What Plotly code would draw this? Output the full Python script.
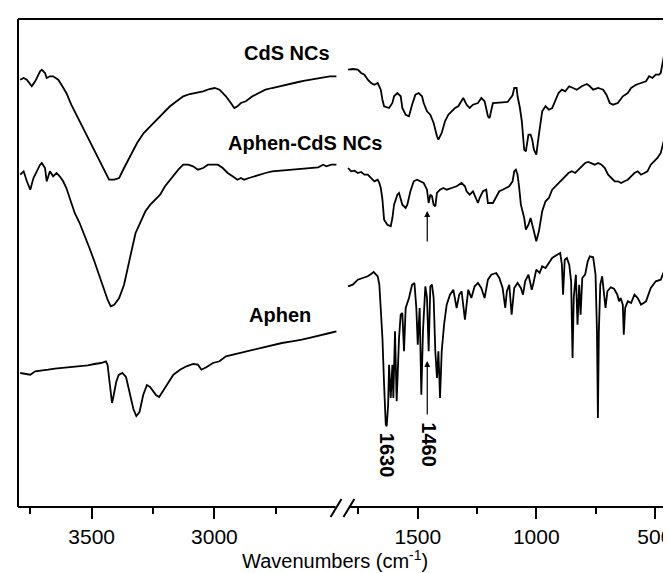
import plotly.graph_objects as go

# ---------------- data (wavenumber cm-1, transmittance a.u. with offsets) -------------
cds_hi_wn = [3791,3777,3764,3744,3730,3710,3703,3690,3683,3670,3657,3636,3623,3603,3583,3556,3529,3502,3476,3449,3429,3408,3388,3368,3341,3315,3288,3261,3234,3207,3181,3154,3127,3100,3073,3046,3020,2999,2979,2953,2933,2919,2906,2892,2872,2845,2819,2792,2765,2738,2711,2684,2658,2631,2604,2577,2550,2530,2503]
cds_hi_t = [427.3,429,427.3,420.7,425.7,435.7,437.3,434,429,430.7,430.7,427.3,422.3,414,402.3,389,375.7,362.3,349,335.7,327.3,327.3,329,339,352.3,364,374,380.7,387.3,394,400.7,405.7,410.7,413,414,415.7,418,419,417.3,410.7,404,399,400.7,404,405.7,410.7,414,417.3,419,420.7,422.3,424,425,426.3,427.3,428.3,429.7,430.7,430.7]

cds_lo_wn = [1794,1774,1753,1739,1725,1711,1697,1683,1669,1656,1649,1642,1621,1607,1600,1586,1572,1565,1551,1537,1524,1510,1496,1482,1475,1461,1447,1433,1419,1413,1399,1385,1371,1357,1343,1329,1315,1308,1294,1281,1267,1246,1232,1218,1204,1197,1183,1162,1142,1121,1100,1093,1083,1079,1069,1061,1056,1051,1044,1033,1024,1017,1010,1000,989,975,961,947,933,919,906,892,878,861,843,829,808,787,774,760,739,718,704,690,676,656,635,614,600,579,558,537,524,510,496,482,475,468,461]
cds_lo_t = [437.3,438,437.3,434,432.3,427.3,424,422.3,424,417.3,407.3,400.7,399,404,410.7,414,410.7,399,392.3,390.7,402.3,412.3,414,410.7,404,395.7,392.3,384,370.7,367.3,374,385.7,392.3,395.7,399,400.7,407.3,409,402.3,399,402.3,404,409,405.7,390.7,389,404,404,404.7,405,411.7,419,419,410.7,399,385.7,367.3,357.3,355.7,372.3,372.3,367.3,357.3,352.3,372.3,395.7,400.7,397.3,399,407.3,414,417.3,415.7,420.7,419,417.3,420.7,423,420.7,417.3,419,417.3,412.3,404,402.3,404,410.7,414,419,422.3,424,425.7,430.7,429,432.3,432.3,434,443.3,451.7]

apc_hi_wn = [3791,3777,3764,3750,3737,3724,3710,3703,3690,3683,3670,3657,3643,3630,3616,3603,3590,3583,3569,3549,3529,3509,3489,3469,3449,3435,3422,3408,3388,3368,3355,3335,3321,3301,3281,3261,3241,3221,3201,3181,3167,3147,3127,3107,3087,3067,3046,3026,3006,2986,2966,2946,2926,2906,2892,2879,2859,2839,2819,2792,2765,2738,2698,2658,2617,2577,2557,2544,2524,2503]
apc_hi_t = [332.3,335.7,325.7,317.3,329,335.7,342.3,344,339,325.7,335.7,330.7,334,330.7,325.7,319,309,304,294,284,272.3,259,245.7,232.3,217.3,207.3,200.7,202.3,209,222.3,235.7,259,274,285.7,295.7,302.3,307.3,312.3,320.7,327.3,330.7,337.3,342.3,342.3,340.7,337.3,339,342.3,342.3,342.3,339,334,330.7,327.3,329,327.3,329,330.7,332.3,334,335.7,336.3,337.3,338.3,339,339.7,342.3,340.7,342.3,342.3]

apc_lo_wn = [1794,1781,1767,1753,1739,1725,1711,1697,1683,1669,1662,1656,1649,1642,1628,1614,1607,1600,1586,1579,1572,1565,1551,1544,1531,1517,1503,1489,1475,1461,1454,1447,1440,1433,1426,1419,1406,1392,1378,1357,1336,1315,1301,1294,1281,1267,1253,1246,1239,1225,1211,1204,1183,1169,1156,1142,1128,1114,1100,1093,1086,1079,1072,1065,1051,1044,1033,1024,1010,1000,989,975,961,947,933,919,906,892,878,864,850,836,822,808,794,781,767,753,739,725,711,697,683,669,656,642,628,614,600,586,572,558,544,531,517,503,489,475,468,461]
apc_lo_t = [339,335.7,336.3,334,335,332.3,332.3,329,325.7,327.3,324,319,307.3,287.3,282.3,280.7,289,302.3,312.3,314,307.3,302.3,299,302.3,315.7,325.7,327.3,325.7,324,317.3,304,312.3,310.7,302.3,300.7,314,317.3,319,317.3,319,320.7,324,320.7,315.7,312.3,315.7,309,304,309,315.7,317.3,304,304,310.7,315.7,317.3,319,320.7,325.7,335.7,337.3,332.3,319,302.3,289,277.3,282.3,289,275.7,265.7,275.7,295.7,305.7,309,317.3,320.7,324,327.3,330.7,334,335.7,334,337.3,340.7,344,345,344,342.3,344,342.3,339,332.3,329,325.7,325.7,324,325.7,327.3,330.7,334,335.7,332.3,334,335.7,342.3,345.7,349,354,362.3,367.3]

aph_hi_wn = [3791,3770,3750,3730,3703,3677,3650,3623,3596,3569,3543,3516,3489,3462,3442,3435,3429,3422,3417,3410,3400,3390,3375,3360,3345,3330,3318,3305,3290,3275,3262,3250,3238,3225,3212,3194,3167,3140,3114,3087,3067,3053,3033,3006,2979,2953,2926,2899,2872,2845,2819,2792,2765,2725,2684,2644,2604,2564,2530,2503]
aph_hi_t = [134,133,132.3,135.7,136.3,137.3,138.3,139,139.7,140.7,140.7,141.7,143,144,145.7,142,129,110,104,112,125,132,134,130,115,98,91,95,112,122,120,116,112,110,115,122.3,132.3,137.3,140.7,143,142.3,137.3,139.7,144,145.7,150.7,152.3,154,155.7,157.3,159,160.7,162.3,164,165.7,167.3,169.7,171.7,174,175.7]

aph_lo_wn = [1794,1774,1753,1732,1711,1697,1686,1676,1669,1662,1656,1649,1642,1635,1631,1625,1621,1614,1607,1603,1596,1589,1579,1572,1565,1558,1551,1537,1524,1514,1506,1500,1492,1485,1478,1468,1461,1454,1447,1440,1433,1426,1419,1413,1406,1399,1389,1378,1364,1350,1336,1325,1315,1301,1287,1274,1260,1246,1232,1218,1204,1190,1169,1156,1142,1131,1124,1114,1104,1093,1079,1065,1056,1047,1033,1019,1012,1000,986,975,961,947,933,912,899,892,887,880,871,861,853,847,842,833,826,819,813,806,794,783,774,760,750,744,740,736,730,722,714,708,700,686,672,658,651,644,635,631,625,614,600,586,572,558,537,517,496,475,461,457]
aph_lo_t = [220.7,222.3,227.3,229,230.7,233,235,232.3,230.7,222.3,199,169,122.3,82.3,80.7,102.3,142.3,109,142.3,109,175.7,105.7,169,192.3,194,155.7,199,209,222.3,224,199,162.3,199,112.3,175.7,220.7,209,155.7,220.7,222.3,209,155.7,129,155.7,109,155.7,182.3,202.3,212.3,217.3,199,212.3,215.7,187.3,217.3,209,220.7,224,219,209,227.3,232.3,234,229,219,199,215.7,222.3,192.3,219,224,219,212.3,225.7,232.3,217.3,224,237.3,234,240.7,239,244,249,252.3,254,242.3,212.3,247.3,249,242.3,225.7,149,209,232.3,182.3,222.3,192.3,229,232.3,245.7,250.7,249.7,232.3,175.7,89,175.7,222.3,230.7,215.7,199,215.7,219.7,218.3,212.3,205.7,209,202.3,172.3,199,205.7,204,212.3,209,202.3,205.7,219,225.7,227.3,235.7,242.3]

left_range = [3800, 2500]
right_range = [1800, 457]
left_major = [3500, 3000]
left_minor = [3750, 3250, 2750]
right_major = [1500, 1000, 500]
right_minor = [1750, 1250, 750]
series_labels = ["CdS NCs", "Aphen-CdS NCs", "Aphen"]
peak_labels = ["1630", "1460"]
peak_wn = [1629, 1454]

# ---------------- figure -------------
BLACK = "#000000"
LW = 1.8
FONT = "Arial, Liberation Sans, sans-serif"

fig = go.Figure()
for wn, t in [(cds_hi_wn, cds_hi_t), (apc_hi_wn, apc_hi_t), (aph_hi_wn, aph_hi_t)]:
    fig.add_trace(go.Scatter(x=wn, y=t, mode="lines", line=dict(color=BLACK, width=LW),
                             xaxis="x", yaxis="y", showlegend=False, hoverinfo="skip"))
for wn, t in [(cds_lo_wn, cds_lo_t), (apc_lo_wn, apc_lo_t), (aph_lo_wn, aph_lo_t)]:
    fig.add_trace(go.Scatter(x=wn, y=t, mode="lines", line=dict(color=BLACK, width=LW),
                             xaxis="x2", yaxis="y", showlegend=False, hoverinfo="skip"))

PW = 654.0  # plot width px
PH = 488.0
d1 = 322.6 / PW
d2 = 332.2 / PW

tick_common = dict(showgrid=False, zeroline=False, showline=False, ticks="outside",
                   ticklen=11, tickwidth=2, tickcolor=BLACK, ticklabeloverflow="allow",
                   tickfont=dict(family=FONT, size=21, color=BLACK), tickmode="array")

fig.update_layout(
    width=671, height=573,
    margin=dict(l=10, r=7, t=11, b=74),
    paper_bgcolor="white", plot_bgcolor="white",
    xaxis=dict(domain=[0, d1], range=left_range, tickvals=left_major,
               ticktext=[str(v) for v in left_major], anchor="y",
               minor=dict(tickvals=left_minor, ticks="outside", ticklen=6, tickwidth=2, tickcolor=BLACK),
               **tick_common),
    xaxis2=dict(domain=[d2, 1], range=right_range, tickvals=right_major,
                ticktext=[str(v) for v in right_major], anchor="y",
                minor=dict(tickvals=right_minor, ticks="outside", ticklen=6, tickwidth=2, tickcolor=BLACK),
                **tick_common),
    yaxis=dict(range=[0, PH], showticklabels=False, showgrid=False, zeroline=False,
               showline=False, ticks=""),
)

def px(x):
    return (x - 10) / PW

def py(y):
    return (499 - y) / PH

line = dict(color=BLACK, width=2)
shapes = [
    dict(type="line", xref="paper", yref="paper", x0=0, x1=1, y0=1, y1=1, line=line),
    dict(type="line", xref="paper", yref="paper", x0=0, x1=0, y0=0, y1=1, line=line),
    dict(type="line", xref="paper", yref="paper", x0=1, x1=1, y0=0, y1=1, line=line),
    dict(type="line", xref="paper", yref="paper", x0=0, x1=px(331), y0=0, y1=0, line=line),
    dict(type="line", xref="paper", yref="paper", x0=px(345), x1=1, y0=0, y1=0, line=line),
    dict(type="line", xref="paper", yref="paper", x0=px(326), x1=px(337), y0=py(509), y1=py(491), line=line),
    dict(type="line", xref="paper", yref="paper", x0=px(339), x1=px(350), y0=py(509), y1=py(491), line=line),
]
fig.update_layout(shapes=shapes)

bold = dict(family=FONT, size=20, color=BLACK, weight="bold")
ann = [
    dict(x=2703, y=454, xref="x", yref="y", text="<b>" + series_labels[0] + "</b>", showarrow=False, font=bold),
    dict(x=2631, y=364, xref="x", yref="y", text="<b>" + series_labels[1] + "</b>", showarrow=False, font=bold),
    dict(x=2732, y=192, xref="x", yref="y", text="<b>" + series_labels[2] + "</b>", showarrow=False, font=bold),
    dict(x=peak_wn[0], y=52, xref="x2", yref="y", text="<b>" + peak_labels[0] + "</b>", showarrow=False,
         textangle=90, font=bold),
    dict(x=peak_wn[1], y=62, xref="x2", yref="y", text="<b>" + peak_labels[1] + "</b>", showarrow=False,
         textangle=90, font=bold),
    # arrows
    dict(x=1460, y=296, ax=1460, ay=264, xref="x2", yref="y", axref="x2", ayref="y", text="",
         showarrow=True, arrowhead=2, arrowsize=1, arrowwidth=1.2, arrowcolor=BLACK),
    dict(x=1460, y=146, ax=1460, ay=91, xref="x2", yref="y", axref="x2", ayref="y", text="",
         showarrow=True, arrowhead=2, arrowsize=1, arrowwidth=1.2, arrowcolor=BLACK),
    dict(x=px(330), y=py(551), xref="paper", yref="paper", text="Wavenumbers (cm<sup>-1</sup>)",
         showarrow=False, font=dict(family=FONT, size=20, color=BLACK), xanchor="center", yanchor="middle",
         borderpad=0),
]
fig.update_layout(annotations=ann)

fig.write_html("out.html")
